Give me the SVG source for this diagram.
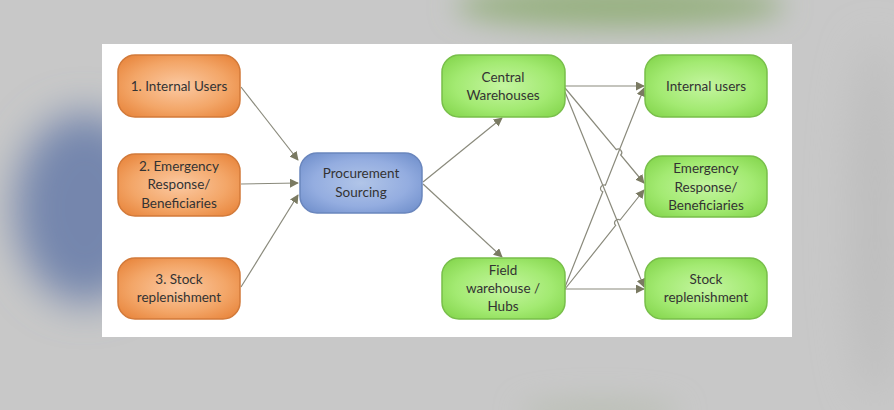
<svg xmlns="http://www.w3.org/2000/svg" width="894" height="410" viewBox="0 0 894 410">
<defs>
<filter id="blur" x="-50%" y="-50%" width="200%" height="200%"><feGaussianBlur stdDeviation="20"/></filter>
<filter id="blur2" x="-50%" y="-50%" width="200%" height="200%"><feGaussianBlur stdDeviation="14"/></filter>
<radialGradient id="gOr" cx="50%" cy="50%" r="65%"><stop offset="0" stop-color="#fbc9a2"/><stop offset="0.6" stop-color="#f3a668"/><stop offset="1" stop-color="#e8853c"/></radialGradient>
<radialGradient id="gBl" cx="50%" cy="50%" r="65%"><stop offset="0" stop-color="#b1c5e8"/><stop offset="0.6" stop-color="#94ade0"/><stop offset="1" stop-color="#7190cc"/></radialGradient>
<radialGradient id="gGr" cx="50%" cy="50%" r="65%"><stop offset="0" stop-color="#c4f5a0"/><stop offset="0.6" stop-color="#a3ea72"/><stop offset="1" stop-color="#85d64e"/></radialGradient>
<marker id="arr" viewBox="0 0 10 10" refX="9" refY="5" markerWidth="9" markerHeight="9" markerUnits="userSpaceOnUse" orient="auto"><path d="M0,0 L10,5 L0,10 Z" fill="#7a7a62"/></marker>
</defs>
<style>
.or{fill:url(#gOr);stroke:#d27a3a;stroke-width:1.5}
.bl{fill:url(#gBl);stroke:#6a86bd;stroke-width:1.5}
.gr{fill:url(#gGr);stroke:#78bf4a;stroke-width:1.5}
text{font-family:Lato,"Open Sans","Liberation Sans",sans-serif;font-size:13.5px;fill:#333333;text-anchor:middle}
.c line,.c path{stroke:#8a8a7c;stroke-width:1.2;fill:none;marker-end:url(#arr)}
</style>
<rect x="0" y="0" width="894" height="410" fill="#c8c8c8"/>
<g filter="url(#blur)">
<ellipse cx="85" cy="208" rx="70" ry="95" fill="#7586ad"/>
<ellipse cx="875" cy="220" rx="25" ry="180" fill="#bdbdbd"/>
</g>
<g filter="url(#blur2)">
<ellipse cx="620" cy="6" rx="165" ry="22" fill="#97b181"/>
<ellipse cx="600" cy="412" rx="80" ry="12" fill="#b9beb3"/>
</g>
<rect x="102" y="44" width="690" height="293" fill="#ffffff"/>
<g class="c">
<line x1="241" y1="87" x2="298" y2="160"/>
<line x1="241" y1="184" x2="298" y2="183"/>
<line x1="241" y1="287" x2="298" y2="195"/>
<line x1="423" y1="182" x2="502" y2="118"/>
<line x1="423" y1="184" x2="502" y2="257"/>
<line x1="565" y1="86" x2="644" y2="86"/>
<path d="M565,88 L616.3,149.6 A3.5,3.5 0 0 1 620.7,155 L644,183"/>
<line x1="565" y1="92" x2="644" y2="287"/>
<path d="M565,287 L602.8,191.8 A3.5,3.5 0 0 1 605.4,185.2 L644,88"/>
<path d="M565,289 L615.7,225.4 A3.5,3.5 0 0 1 620.1,220 L644,190"/>
<line x1="565" y1="289" x2="644" y2="289"/>
</g>
<g id="n1"><rect class="or" x="118" y="55" width="122" height="62" rx="17"/><text x="179" y="91">1. Internal Users</text></g>
<g id="n2"><rect class="or" x="118" y="154" width="122" height="62" rx="17"/><text x="179" y="171">2. Emergency</text><text x="179" y="189">Response/</text><text x="179" y="208">Beneficiaries</text></g>
<g id="n3"><rect class="or" x="118" y="258" width="122" height="61" rx="17"/><text x="179" y="284">3. Stock</text><text x="179" y="302">replenishment</text></g>
<g id="proc"><rect class="bl" x="300" y="153" width="122" height="60" rx="17"/><text x="361" y="178">Procurement</text><text x="361" y="197">Sourcing</text></g>
<g id="central"><rect class="gr" x="442" y="55" width="123" height="62" rx="17"/><text x="503" y="82">Central</text><text x="503" y="100">Warehouses</text></g>
<g id="field"><rect class="gr" x="442" y="258" width="123" height="61" rx="17"/><text x="503" y="275">Field</text><text x="503" y="293">warehouse /</text><text x="503" y="311">Hubs</text></g>
<g id="r1"><rect class="gr" x="645" y="55" width="122" height="62" rx="17"/><text x="706" y="91">Internal users</text></g>
<g id="r2"><rect class="gr" x="645" y="156" width="122" height="61" rx="17"/><text x="706" y="173">Emergency</text><text x="706" y="192">Response/</text><text x="706" y="210">Beneficiaries</text></g>
<g id="r3"><rect class="gr" x="645" y="258" width="122" height="61" rx="17"/><text x="706" y="284">Stock</text><text x="706" y="302">replenishment</text></g>
</svg>
